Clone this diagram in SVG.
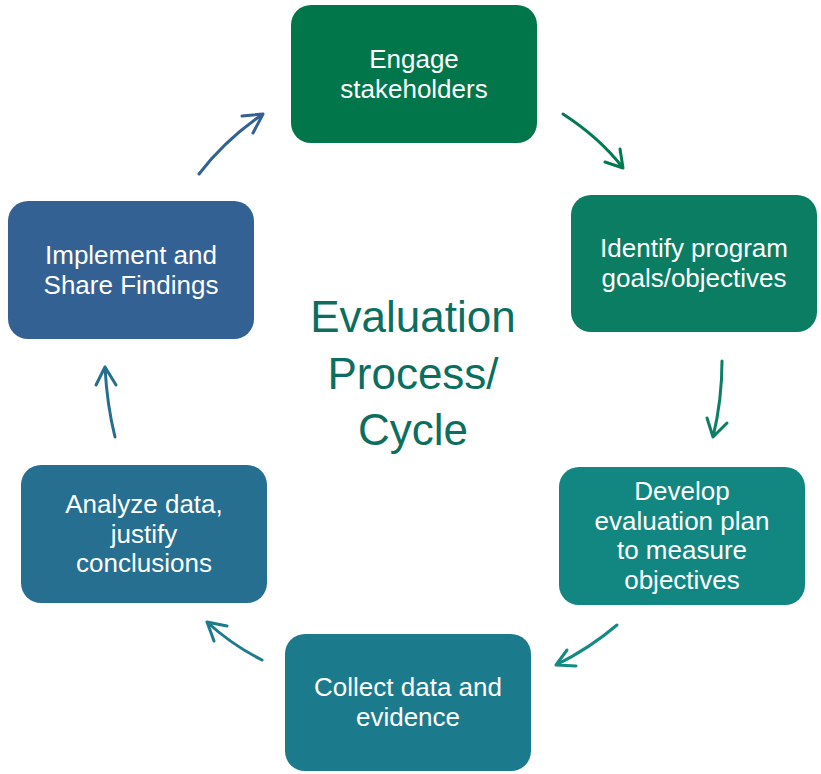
<svg xmlns="http://www.w3.org/2000/svg" width="821" height="774" viewBox="0 0 821 774">
<defs>
<style>
.box text{font-family:"Liberation Sans",Arial,sans-serif;font-size:26px;fill:#ffffff;text-anchor:middle}
.title{font-family:"Liberation Sans",Arial,sans-serif;font-size:44px;fill:#0b6e5e;text-anchor:middle}
.conn path{fill:none;stroke-width:3;stroke-linecap:round;stroke-linejoin:round}
</style>
</defs>
<rect width="821" height="774" fill="#ffffff"/>
<g id="n1" class="box"><rect x="291" y="5" width="246" height="138" rx="20" fill="#00764a"/><text x="414" y="68">Engage</text><text x="414" y="97.5">stakeholders</text></g>
<g id="n2" class="box"><rect x="571" y="195" width="246" height="137" rx="20" fill="#0b7d63"/><text x="694" y="257">Identify program</text><text x="694" y="286.5">goals/objectives</text></g>
<g id="n3" class="box"><rect x="559" y="467" width="246" height="138" rx="20" fill="#128782"/><text x="682" y="500">Develop</text><text x="682" y="529.5">evaluation plan</text><text x="682" y="559">to measure</text><text x="682" y="588.5">objectives</text></g>
<g id="n4" class="box"><rect x="285" y="634" width="246" height="137" rx="20" fill="#1b7b8c"/><text x="408" y="696">Collect data and</text><text x="408" y="725.5">evidence</text></g>
<g id="n5" class="box"><rect x="21" y="465" width="246" height="138" rx="20" fill="#266f90"/><text x="144" y="513">Analyze data,</text><text x="144" y="542.5">justify</text><text x="144" y="572">conclusions</text></g>
<g id="n6" class="box"><rect x="8" y="201" width="246" height="138" rx="20" fill="#336194"/><text x="131" y="264">Implement and</text><text x="131" y="293.5">Share Findings</text></g>
<g id="title"><text class="title" x="413" y="332">Evaluation</text><text class="title" x="413" y="389">Process/</text><text class="title" x="413" y="445">Cycle</text></g>
<g id="connectors" class="conn">
<path d="M563,114 Q600,138 623,168 M605,162 L623,168 L620,149" stroke="#007a4e"/>
<path d="M722,361 Q722,400 713,437 M707,418 L713,437 L727,423" stroke="#0b7e66"/>
<path d="M617,625 Q590,648 556,665 M567,650 L556,665 L576,666" stroke="#128a82"/>
<path d="M262,660 Q232,645 207,622 M214,641 L207,622 L227,626" stroke="#1a7c8c"/>
<path d="M115,437 Q107,405 105,367 M96,385 L105,367 L116,385" stroke="#256e90"/>
<path d="M199,174 Q225,140 263,114 M242,116 L263,114 L253,133" stroke="#336194"/>
</g>
</svg>
